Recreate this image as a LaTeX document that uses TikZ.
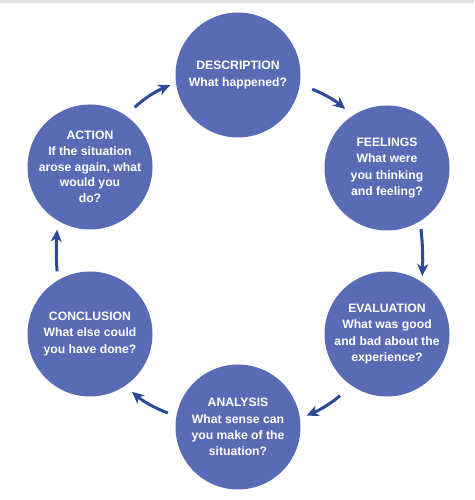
\documentclass[tikz,border=0pt]{standalone}
\usepackage{fontspec}
\setmainfont{Liberation Sans}
\usetikzlibrary{arrows.meta}
\definecolor{circfill}{HTML}{5A6BB5}
\definecolor{arrcol}{HTML}{2C4A9A}
\definecolor{topgray}{HTML}{E4E4E4}
\begin{document}
\begin{tikzpicture}[x=1pt,y=1pt,
  stage/.style={circle,fill=circfill,minimum size=125pt,inner sep=0pt,text=white,
    align=center,font=\fontsize{12.2}{16.3}\selectfont\bfseries},
  arr/.style={draw=arrcol,line width=3pt,-{Stealth[length=12pt,width=11pt,inset=3.5pt]}}]
\useasboundingbox (0,0) rectangle (474,500);
\fill[topgray] (0,497) rectangle (474,500);
\node[stage] (desc) at (238,425) {DESCRIPTION\\What happened?};
\node[stage] (feel) at (387,332) {FEELINGS\\What were\\you thinking\\and feeling?};
\node[stage] (eval) at (387,166) {EVALUATION\\What was good\\and bad about the\\experience?};
\node[stage] (anal) at (238,73) {ANALYSIS\\What sense can\\you make of the\\situation?};
\node[stage] (conc) at (90,166) {CONCLUSION\\What else could\\you have done?};
\node[stage,font=\fontsize{12.2}{15.8}\selectfont\bfseries] (act) at (90,333) {ACTION\\If the situation\\arose again, what\\would you\\do?};
\draw[arr,shorten <=12pt,shorten >=6pt] (act.55) to[bend left=10] (desc.187);
\draw[arr,shorten <=13pt,shorten >=10pt] (desc.-9) to[bend left=10] (feel.123);
\draw[arr,shorten <=8pt,shorten >=6pt] (feel.-58) to[bend left=4] (eval.56);
\draw[arr,shorten <=15pt,shorten >=7pt] (eval.235) to[bend left=10] (anal.8);
\draw[arr,shorten <=9pt,shorten >=9pt] (anal.170) to[bend left=10] (conc.-56);
\draw[arr,shorten <=9pt,shorten >=9pt] (conc.121) to[bend left=4] (act.239);
\end{tikzpicture}
\end{document}
